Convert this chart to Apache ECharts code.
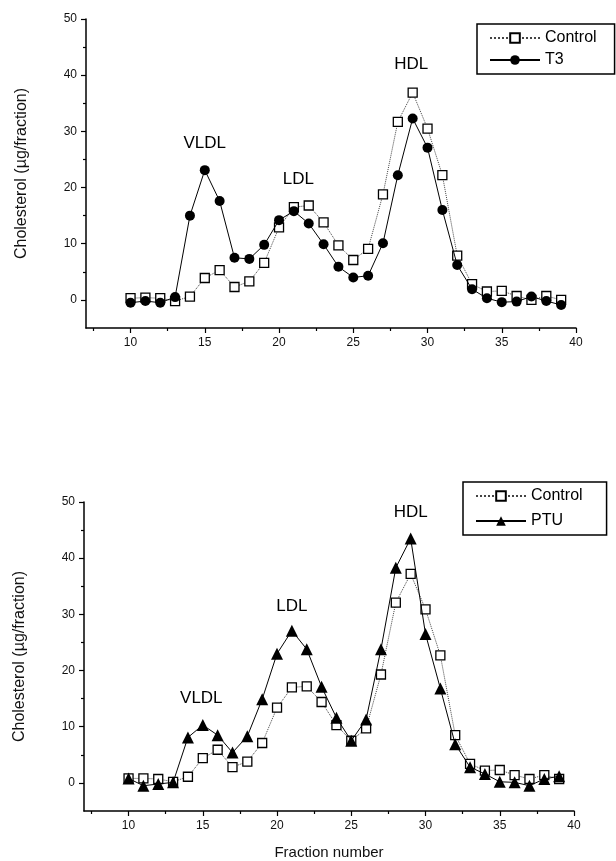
<!DOCTYPE html>
<html>
<head>
<meta charset="utf-8">
<script src="https://cdn.jsdelivr.net/npm/echarts@6/dist/echarts.min.js"></script>
<style>
  html, body { margin: 0; padding: 0; background: #fff; }
  #chart { width: 616px; height: 861px; }
</style>
</head>
<body>
<div id="chart"></div>
<script>
// fraction numbers 10..39
var fractions = [10, 11, 12, 13, 14, 15, 16, 17, 18, 19, 20, 21, 22, 23, 24,
                 25, 26, 27, 28, 29, 30, 31, 32, 33, 34, 35, 36, 37, 38, 39];

// top panel
var controlTop = [0.3, 0.4, 0.3, -0.2, 0.6, 3.9, 5.3, 2.3, 3.3, 6.6, 12.9, 16.5, 16.8, 13.8, 9.7,
                  7.1, 9.1, 18.8, 31.7, 36.9, 30.5, 22.2, 7.9, 2.8, 1.5, 1.6, 0.7, 0, 0.7, 0];
var t3 = [-0.5, -0.2, -0.5, 0.5, 15.0, 23.1, 17.6, 7.5, 7.3, 9.8, 14.2, 15.8, 13.6, 9.9, 5.9,
          4.0, 4.3, 10.1, 22.2, 32.3, 27.1, 16.0, 6.2, 1.9, 0.3, -0.4, -0.3, 0.6, -0.2, -0.9];

// bottom panel
var controlBottom = [0.8, 0.8, 0.7, 0.2, 1.1, 4.4, 5.9, 2.8, 3.8, 7.1, 13.4, 17.0, 17.2, 14.4, 10.3,
                     7.5, 9.7, 19.3, 32.1, 37.2, 30.9, 22.7, 8.5, 3.4, 2.2, 2.3, 1.4, 0.7, 1.4, 0.7];
var ptu = [0.8, -0.5, -0.2, 0.1, 8.1, 10.3, 8.5, 5.4, 8.3, 14.9, 23.0, 27.1, 23.8, 17.1, 11.6,
           7.5, 11.3, 23.8, 38.3, 43.5, 26.5, 16.8, 6.9, 2.8, 1.6, 0.2, 0.1, -0.5, 0.7, 1.2];

// peak labels [fraction, cholesterol, text]
var peaksTop = [[15.0, 27.8, 'VLDL'], [21.3, 21.5, 'LDL'], [28.9, 42.0, 'HDL']];
var peaksBottom = [[14.9, 15.0, 'VLDL'], [21.0, 31.5, 'LDL'], [29.0, 48.1, 'HDL']];

// axis ticks
var xMajor = [10, 15, 20, 25, 30, 35, 40];
var xMinor = [7.5, 12.5, 17.5, 22.5, 27.5, 32.5, 37.5];
var yMajor = [0, 10, 20, 30, 40, 50];
var yMinor = [5, 15, 25, 35, 45];

var FONT = 'Liberation Sans, Arial, sans-serif';

function pairs(vals) {
    return fractions.map(function (f, i) { return [f, vals[i]]; });
}

function xAxes(gridIndex, withName) {
    return [
        {
            type: 'value', gridIndex: gridIndex, min: 7, max: 40, position: 'bottom',
            name: withName ? 'Fraction number' : '',
            nameLocation: 'middle', nameGap: 34,
            nameTextStyle: { color: '#111', fontSize: 15, fontFamily: FONT },
            splitLine: { show: false },
            axisLine: { onZero: false, lineStyle: { color: '#000', width: 1.5 } },
            axisTick: { customValues: xMajor, length: 5, lineStyle: { color: '#000', width: 1.2 } },
            axisLabel: { customValues: xMajor, color: '#111', fontSize: 12, fontFamily: FONT, margin: 9 }
        },
        {
            type: 'value', gridIndex: gridIndex, min: 7, max: 40, position: 'bottom',
            splitLine: { show: false },
            axisLine: { show: false, onZero: false },
            axisTick: { customValues: xMinor, length: 3, lineStyle: { color: '#000', width: 1.2 } },
            axisLabel: { show: false }
        }
    ];
}

function yAxes(gridIndex) {
    return [
        {
            type: 'value', gridIndex: gridIndex, min: -5, max: 50, position: 'left',
            name: 'Cholesterol (µg/fraction)',
            nameLocation: 'middle', nameGap: 56,
            nameTextStyle: { color: '#111', fontSize: 16, fontFamily: FONT },
            splitLine: { show: false },
            axisLine: { onZero: false, lineStyle: { color: '#000', width: 1.5 } },
            axisTick: { customValues: yMajor, length: 5, lineStyle: { color: '#000', width: 1.2 } },
            axisLabel: { customValues: yMajor, color: '#111', fontSize: 12, fontFamily: FONT, margin: 9 }
        },
        {
            type: 'value', gridIndex: gridIndex, min: -5, max: 50, position: 'left',
            splitLine: { show: false },
            axisLine: { show: false, onZero: false },
            axisTick: { customValues: yMinor, length: 3, lineStyle: { color: '#000', width: 1.2 } },
            axisLabel: { show: false }
        }
    ];
}

function controlSeries(vals, axisIndex) {
    return {
        name: 'Control', type: 'line',
        xAxisIndex: axisIndex, yAxisIndex: axisIndex,
        data: pairs(vals),
        symbol: 'rect', symbolSize: 9,
        itemStyle: { color: '#fff', borderColor: '#000', borderWidth: 1.3 },
        lineStyle: { color: '#444', width: 1, type: 'dotted' },
        z: 3
    };
}

function treatedSeries(name, vals, axisIndex, symbol, size) {
    return {
        name: name, type: 'line',
        xAxisIndex: axisIndex, yAxisIndex: axisIndex,
        data: pairs(vals),
        symbol: symbol, symbolSize: size,
        itemStyle: { color: '#000', borderColor: '#000', borderWidth: 0 },
        lineStyle: { color: '#000', width: 1, type: 'solid' },
        z: 4
    };
}

function peakSeries(peaks, axisIndex) {
    return {
        type: 'scatter', silent: true,
        xAxisIndex: axisIndex, yAxisIndex: axisIndex,
        symbolSize: 0,
        itemStyle: { opacity: 1, color: '#000' },
        data: peaks.map(function (p) { return { value: [p[0], p[1]], name: p[2] }; }),
        label: {
            show: true, position: 'inside', formatter: '{b}',
            color: '#000', fontSize: 17, fontFamily: FONT,
            textBorderWidth: 0
        }
    };
}

function legendBox(top, left, names, gap, padRight) {
    return {
        data: names, orient: 'vertical',
        left: left, top: top,
        itemWidth: 50, itemHeight: 12, itemGap: gap,
        padding: [6, padRight, 6, 12],
        borderColor: '#000', borderWidth: 1.5,
        textStyle: { color: '#000', fontSize: 16, fontFamily: FONT }
    };
}

var chart = echarts.init(document.getElementById('chart'));
var option = {
    backgroundColor: '#fff',
    animation: false,
    grid: [
        { left: 86, right: 40, top: 19, height: 309 },
        { left: 84, right: 42, top: 502, height: 310 }
    ],
    legend: [
        legendBox(24, 477, ['Control', 'T3'], 6, 18),
        legendBox(482, 463, ['Control', 'PTU'], 9, 24)
    ],
    xAxis: xAxes(0, false).concat(xAxes(1, true)),
    yAxis: yAxes(0).concat(yAxes(1)),
    series: [
        controlSeries(controlTop, 0),
        treatedSeries('T3', t3, 0, 'circle', 10),
        peakSeries(peaksTop, 0),
        controlSeries(controlBottom, 2),
        treatedSeries('PTU', ptu, 2, 'triangle', 12),
        peakSeries(peaksBottom, 2)
    ]
};
chart.setOption(option);
</script>
</body>
</html>
